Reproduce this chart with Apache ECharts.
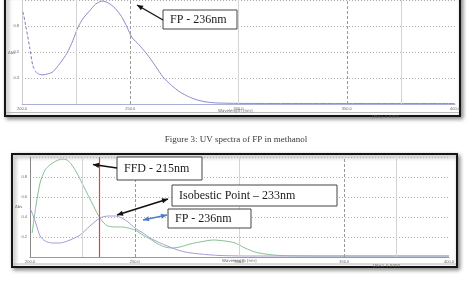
<!DOCTYPE html>
<html>
<head>
<meta charset="utf-8">
<script src="https://cdn.jsdelivr.net/npm/echarts@6/dist/echarts.min.js"></script>
<style>
html,body{margin:0;padding:0;background:#fff;}
#c{width:467px;height:282px;}
</style>
</head>
<body>
<div id="c"></div>
<script>
// ---- Figure 3: FP in methanol (top spectrum) ----
const fpTopNm  = [200.5, 202, 203.5, 205, 206.5, 208, 209.7, 212, 214.3, 217.5, 220.8, 223.5, 225.9, 228.5, 231.4, 234, 237, 240, 243, 246, 248.5, 250.8, 254, 257.7, 261.5, 265.1, 269, 273, 277, 280.8, 285, 290, 300, 325, 350, 375, 400];
const fpTopAbs = [0.885, 0.72, 0.55, 0.37, 0.305, 0.285, 0.28, 0.29, 0.31, 0.39, 0.49, 0.61, 0.74, 0.83, 0.90, 0.96, 0.99, 0.97, 0.92, 0.84, 0.74, 0.64, 0.57, 0.48, 0.37, 0.26, 0.18, 0.115, 0.07, 0.04, 0.02, 0.01, 0.006, 0.005, 0.005, 0.005, 0.005];
const dashedCount = 5; // steep start drawn dashed in the scan

// ---- Bottom overlay: FFD (green) and FP (purple) ----
const ffdNm  = [201, 202.9, 204.8, 207.2, 209.5, 212.4, 215.3, 217.7, 220, 222.4, 224.8, 227.2, 229.6, 232.5, 234.8, 237.2, 240.6, 243.9, 246.8, 250.1, 253.9, 257.3, 261.1, 264.4, 267.8, 271.6, 276.4, 281.1, 287.4, 293.1, 297.9, 302.6, 307.4, 312.2, 319.3, 340, 370, 400];
const ffdAbs = [0.24, 0.52, 0.74, 0.87, 0.92, 0.96, 0.98, 0.97, 0.92, 0.84, 0.74, 0.64, 0.54, 0.42, 0.35, 0.31, 0.30, 0.30, 0.29, 0.27, 0.22, 0.18, 0.13, 0.10, 0.09, 0.10, 0.13, 0.15, 0.17, 0.16, 0.14, 0.09, 0.05, 0.03, 0.015, 0.01, 0.01, 0.01];
const fpNm  = [200, 201.4, 202.9, 204.8, 207.2, 210.5, 214.3, 219.1, 223.9, 228.6, 233.4, 237.2, 240.6, 243.9, 246.8, 250.1, 253.9, 257.3, 261.1, 264.4, 269.2, 274, 281.1, 290.7, 305, 340, 370, 400];
const fpAbs = [0.49, 0.42, 0.33, 0.21, 0.16, 0.14, 0.14, 0.17, 0.22, 0.31, 0.39, 0.41, 0.41, 0.39, 0.35, 0.29, 0.24, 0.19, 0.15, 0.12, 0.08, 0.05, 0.03, 0.015, 0.01, 0.01, 0.01, 0.01];

// ---- axes / reference lines ----
const xTicks = [200, 250, 300, 350, 400];
const lightLines = [225, 300, 375];
const dashLines = [250, 350];
const isobesticNm = 233;
const captionText = 'Figure 3: UV spectra of FP in methanol';

function pairs(xs, ys){ return xs.map((x,i)=>[x, ys[i]]); }
function vLines(){
  const d = [];
  lightLines.forEach(v=>d.push({xAxis:v, lineStyle:{color:'#d4d4d4', width:1, type:'solid'}}));
  dashLines.forEach(v=>d.push({xAxis:v, lineStyle:{color:'#9a9a9a', width:1, type:[3,2]}}));
  return d;
}
function arrowHead(x1,y1,x2,y2,color){
  const dx=x2-x1, dy=y2-y1, L=Math.sqrt(dx*dx+dy*dy), ux=dx/L, uy=dy/L;
  const len=6, hw=2.6;
  const bx=x2-ux*len, by=y2-uy*len;
  return {type:'polygon', z:20, shape:{points:[[x2,y2],[bx-uy*hw,by+ux*hw],[bx+uy*hw,by-ux*hw]]}, style:{fill:color}};
}
function arrow(x1,y1,x2,y2,color,both){
  const els=[{type:'line', z:20, shape:{x1:x1,y1:y1,x2:x2,y2:y2}, style:{stroke:color, lineWidth:1.4}}];
  els.push(arrowHead(x1,y1,x2,y2,color));
  if(both) els.push(arrowHead(x2,y2,x1,y1,color));
  return els;
}
function box(x,y,w,h,text){
  return [
    {type:'rect', z:19, shape:{x:x,y:y,width:w,height:h}, style:{fill:'#fff', stroke:'#444', lineWidth:1}},
    {type:'text', z:21, x:x+7, y:y+h/2+0.5, style:{text:text, font:"12px 'Liberation Serif'", fill:'#1a1a1a', textVerticalAlign:'middle'}}
  ];
}
function tiny(x,y,t,align){
  return {type:'text', z:5, x:x, y:y, style:{text:t, font:"4px 'DejaVu Sans'", fill:'#666', textAlign:align||'left', textVerticalAlign:'middle'}};
}

const axisLab = {fontSize:4, color:'#666', margin:3};
const chart = echarts.init(document.getElementById('c'));
chart.setOption({
  animation:false,
  grid:[
    {left:22, right:12, top:0, height:104},
    {left:30, right:18, top:157, height:100}
  ],
  xAxis:[0,1].map(i=>({
    type:'value', gridIndex:i, min:200, max:400, interval:50,
    axisLine:{lineStyle:{color: i===0 ? '#aab0d8' : '#999', width:1}},
    axisTick:{show:false}, splitLine:{show:false},
    axisLabel:Object.assign({}, axisLab, {formatter:v=>xTicks.indexOf(v)>=0 ? v.toFixed(1) : ''})
  })),
  yAxis:[
    {type:'value', gridIndex:0, min:0, max:1, interval:0.25,
     axisLine:{show:true, lineStyle:{color:'#ccc'}}, axisTick:{show:false},
     splitLine:{lineStyle:{color:'#b0b0b0', type:[1,2]}},
     axisLabel:Object.assign({}, axisLab, {formatter:v=>(v>0&&v<1)?v.toFixed(1):''})},
    {type:'value', gridIndex:1, min:0, max:1, interval:0.2,
     axisLine:{show:true, lineStyle:{color:'#888'}}, axisTick:{show:false},
     splitLine:{lineStyle:{color:'#b0b0b0', type:[1,2]}},
     axisLabel:Object.assign({}, axisLab, {formatter:v=>(v>0&&v<1)?v.toFixed(1):''})}
  ],
  series:[
    {type:'line', xAxisIndex:0, yAxisIndex:0, showSymbol:false, smooth:0.25,
     data:pairs(fpTopNm.slice(0,dashedCount), fpTopAbs.slice(0,dashedCount)),
     lineStyle:{color:'#7f77c6', width:1, type:[3,2]}, z:3},
    {type:'line', xAxisIndex:0, yAxisIndex:0, showSymbol:false, smooth:0.25,
     data:pairs(fpTopNm.slice(dashedCount-1), fpTopAbs.slice(dashedCount-1)),
     lineStyle:{color:'#8f88cc', width:1}, z:3,
     markLine:{silent:true, symbol:['none','none'], label:{show:false}, data:vLines()}},
    {type:'line', xAxisIndex:1, yAxisIndex:1, showSymbol:false, smooth:0.25,
     data:pairs(ffdNm, ffdAbs), lineStyle:{color:'#86bf95', width:1}, z:3,
     markLine:{silent:true, symbol:['none','none'], label:{show:false}, data:vLines()}},
    {type:'line', xAxisIndex:1, yAxisIndex:1, showSymbol:false, smooth:0.25,
     data:pairs(fpNm, fpAbs), lineStyle:{color:'#a39dd2', width:1}, z:4,
     markLine:{silent:true, symbol:['none','none'], label:{show:false},
       lineStyle:{color:'#e0453c', width:1.2, type:'solid'},
       data:[{xAxis:isobesticNm}]}}
  ],
  graphic:[].concat(
    [
      {type:'rect', z:-10, shape:{x:5,y:-6,width:455,height:122}, style:{fill:'#fff', stroke:'#151515', lineWidth:2, shadowBlur:4, shadowOffsetX:2, shadowOffsetY:2, shadowColor:'rgba(0,0,0,0.45)'}},
      {type:'line', z:-9, shape:{x1:6,y1:112.5,x2:459,y2:112.5}, style:{stroke:'#bbb', lineWidth:1}},
      {type:'rect', z:-10, shape:{x:12,y:154,width:445,height:113}, style:{fill:'#fff', stroke:'#151515', lineWidth:2, shadowBlur:4, shadowOffsetX:2, shadowOffsetY:2, shadowColor:'rgba(0,0,0,0.45)'}},
      {type:'line', z:-9, shape:{x1:13,y1:264,x2:456,y2:264}, style:{stroke:'#bbb', lineWidth:1}},
      {type:'text', z:5, x:236, y:140, style:{text:captionText, font:"9px 'Liberation Serif'", fill:'#3a3a3a', textAlign:'center', textVerticalAlign:'middle'}},
      tiny(8,53,'Abs'), tiny(15,207,'Abs'),
      tiny(218,111,'Wavelength [nm]'), tiny(222,260.5,'Wavelength [nm]'),
      tiny(372,117,'[Abs]  0.0000'), tiny(373,265.5,'[Abs]  0.0000')
    ],
    box(163,10,74,19,'FP - 236nm'),
    arrow(163,20,137,5,'#111',false),
    box(117,157,85,23,'FFD - 215nm'),
    arrow(117,168,93,164.5,'#111',false),
    box(172,185,165,21,'Isobestic Point \u2013 233nm'),
    arrow(117,215,168,199,'#111',true),
    box(168,209,83,19,'FP - 236nm'),
    arrow(143,220,167,215,'#4f7fc0',true)
  )
});
</script>
</body>
</html>
